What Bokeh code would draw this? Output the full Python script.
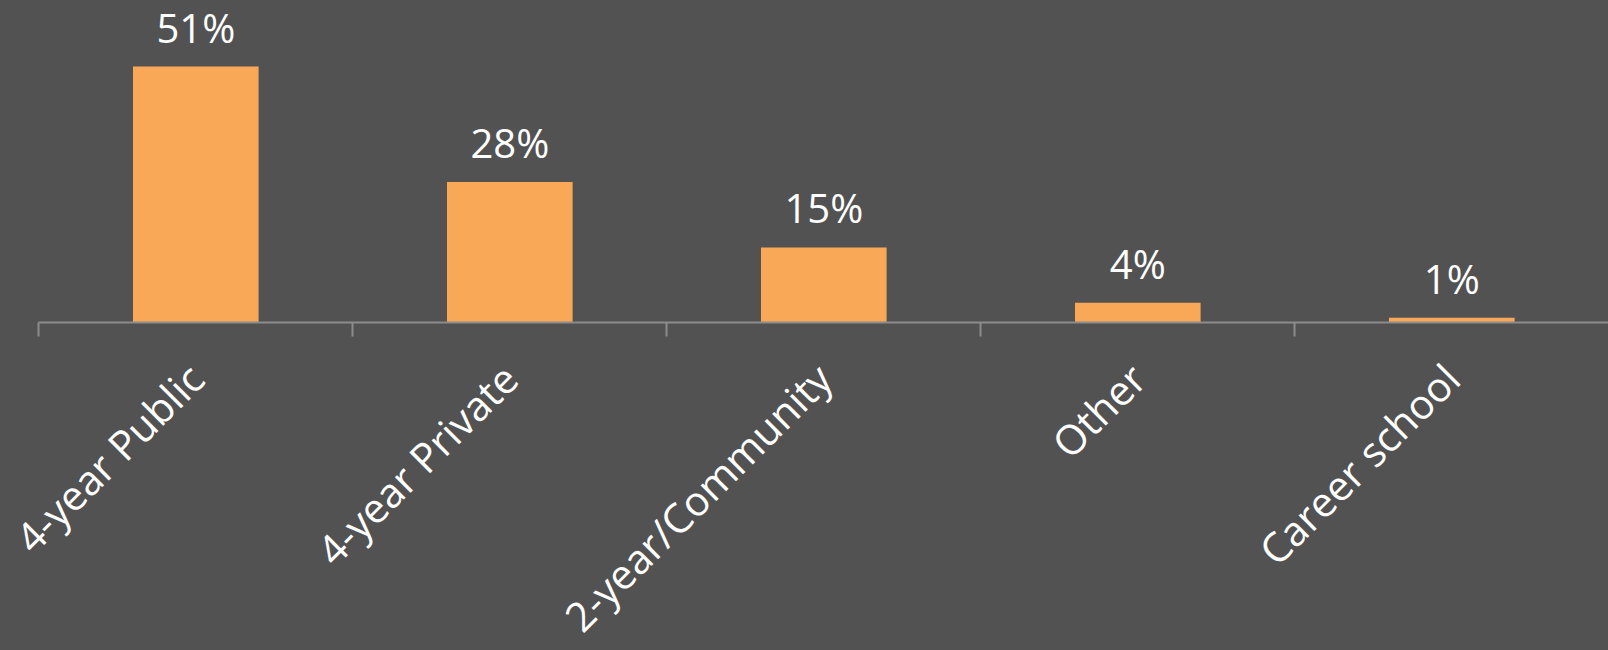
from math import pi
from bokeh.plotting import figure
from bokeh.models import ColumnDataSource, LabelSet, FixedTicker, Range1d, LinearAxis
from bokeh.core.properties import value
from bokeh.embed import file_html
from bokeh.resources import INLINE

# ---- data ----
categories = ["4-year Public", "4-year Private", "2-year/Community", "Other", "Career school"]
values = [51, 28, 15, 4, 1]
value_labels = ["51%", "28%", "15%", "4%", "1%"]

# ---- style ----
BG = "#525252"
BAR = "#F9A858"
AXIS = "#8C8C8C"
FONT = "Open Sans"

xs = list(range(len(categories)))
src = ColumnDataSource(dict(x=xs, top=values, label=value_labels, cat=categories))

W, H = 1608, 650
axis_px = 322.3          # canvas y of the baseline
px_per = 256.3 / 51      # pixels per percent
cat_px = 314.0           # pixels per category
x0_px = 38.3             # canvas x of the first category boundary

x_start = -0.5 - x0_px / cat_px
x_end = x_start + W / cat_px
y_end = axis_px / px_per
y_start = -(H - axis_px) / px_per

p = figure(width=W, height=H,
           x_range=Range1d(x_start, x_end), y_range=Range1d(y_start, y_end),
           output_backend="svg", toolbar_location=None, min_border=0,
           x_axis_type=None, y_axis_type=None)
p.background_fill_color = BG
p.border_fill_color = BG
p.outline_line_color = None

p.vbar(x="x", top="top", bottom=0, width=0.4, source=src,
       fill_color=BAR, line_color=None)

ax = LinearAxis(fixed_location=0, bounds=(-0.5, len(categories) - 0.5))
ax.ticker = FixedTicker(ticks=xs, minor_ticks=[i - 0.5 for i in range(len(categories) + 1)])
ax.major_label_overrides = {i: c for i, c in enumerate(categories)}
ax.axis_line_color = AXIS
ax.axis_line_width = 2
ax.major_tick_line_color = None
ax.major_tick_in = 0
ax.major_tick_out = 0
ax.minor_tick_line_color = AXIS
ax.minor_tick_line_width = 2
ax.minor_tick_in = 0
ax.minor_tick_out = 14
ax.major_label_orientation = pi / 4
ax.major_label_standoff = 34
ax.major_label_text_font = FONT
ax.major_label_text_font_size = "41px"
ax.major_label_text_color = "white"
p.add_layout(ax, "below")

labels = LabelSet(x="x", y="top", text="label", source=src,
                  text_align="center", text_baseline="alphabetic", y_offset=24,
                  text_font=value(FONT), text_font_size=value("40px"),
                  text_color="white")
p.add_layout(labels)

html = file_html(p, INLINE)
html = html.replace("<head>", "<head><style>html,body{background:%s;}</style>" % BG, 1)
open("out.html", "w").write(html)
